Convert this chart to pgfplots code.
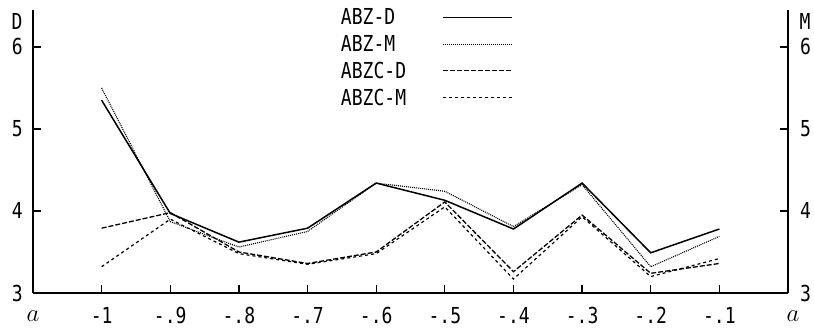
\documentclass[border=0pt]{standalone}
\usepackage{pgfplots}
\pgfplotsset{compat=1.18}
\usepackage{fontspec}
\newfontfamily\pf[FakeStretch=0.82]{DejaVu Sans Mono}
\newcommand{\pff}{\pf\fontsize{22}{22}\selectfont}
\begin{document}
\begin{tikzpicture}
\path[use as bounding box] (-33pt,-41pt) rectangle (781pt,293pt);
\begin{axis}[
  at={(0pt,0pt)}, anchor=south west,
  scale only axis, width=755pt, height=283pt,
  xmin=-1.1, xmax=0, ymin=3, ymax=6.45,
  axis x line*=bottom, axis y line*=left,
  axis line style={-, line width=1.3pt},
  major tick style={black, line width=1.2pt},
  major tick length=8pt,
  tick align=inside,
  xtick={-1,-0.9,-0.8,-0.7,-0.6,-0.5,-0.4,-0.3,-0.2,-0.1},
  xticklabels={-1,-.9,-.8,-.7,-.6,-.5,-.4,-.3,-.2,-.1},
  ytick={3,4,5,6},
  yticklabels={3,4,5,6},
  ticklabel style={font=\pff},
  xticklabel style={inner sep=0pt, anchor=north, yshift=-14pt},
  yticklabel style={inner sep=0pt, anchor=east, xshift=-10pt},
  clip=false,
  legend style={draw=none, fill=none, at={(0.405,1.012)}, anchor=north west,
    inner sep=0pt, font=\pff, row sep=5pt, column sep=34pt},
  legend plot pos=right,
  legend cell align=left,
  legend image code/.code={\draw[#1] (0pt,0pt) -- (69pt,0pt);},
]
\addplot[black, line width=1.5pt] coordinates {
(-1,5.35) (-0.9,3.97) (-0.8,3.62) (-0.7,3.79) (-0.6,4.34) (-0.5,4.13) (-0.4,3.78) (-0.3,4.34) (-0.2,3.49) (-0.1,3.78)};
\addlegendentry{ABZ-D}
\addplot[black, line width=1.1pt, dash pattern=on 1pt off 1pt] coordinates {
(-1,5.50) (-0.9,3.87) (-0.8,3.56) (-0.7,3.75) (-0.6,4.34) (-0.5,4.24) (-0.4,3.81) (-0.3,4.32) (-0.2,3.32) (-0.1,3.69)};
\addlegendentry{ABZ-M}
\addplot[black, line width=1.3pt, dash pattern=on 5pt off 2pt] coordinates {
(-1,3.79) (-0.9,3.98) (-0.8,3.50) (-0.7,3.36) (-0.6,3.50) (-0.5,4.11) (-0.4,3.26) (-0.3,3.95) (-0.2,3.24) (-0.1,3.36)};
\addlegendentry{ABZC-D}
\addplot[black, line width=1.2pt, dash pattern=on 3pt off 3pt] coordinates {
(-1,3.32) (-0.9,3.90) (-0.8,3.48) (-0.7,3.35) (-0.6,3.48) (-0.5,4.05) (-0.4,3.17) (-0.3,3.93) (-0.2,3.20) (-0.1,3.42)};
\addlegendentry{ABZC-M}
\node[font=\pff] at (rel axis cs:0,1) [xshift=-16pt, yshift=-11pt] {D};
\node[font=\fontsize{30}{30}\selectfont] at (rel axis cs:0,0) [yshift=-23pt] {$a$};
\node[font=\fontsize{30}{30}\selectfont] at (rel axis cs:1,0) [xshift=5pt, yshift=-23pt] {$a$};
\end{axis}
\begin{axis}[
  at={(0pt,0pt)}, anchor=south west,
  scale only axis, width=755pt, height=283pt,
  xmin=-1.1, xmax=0, ymin=3, ymax=6.45,
  axis x line=none, axis y line*=right,
  axis line style={-, line width=1.3pt},
  major tick style={black, line width=1.2pt},
  major tick length=8pt,
  tick align=inside,
  ytick={3,4,5,6},
  yticklabels={3,4,5,6},
  yticklabel pos=right,
  ticklabel style={font=\pff},
  yticklabel style={inner sep=0pt, anchor=west, xshift=12pt},
  clip=false,
]
\node[font=\pff] at (rel axis cs:1,1) [xshift=17pt, yshift=-11pt] {M};
\end{axis}
\end{tikzpicture}
\end{document}
